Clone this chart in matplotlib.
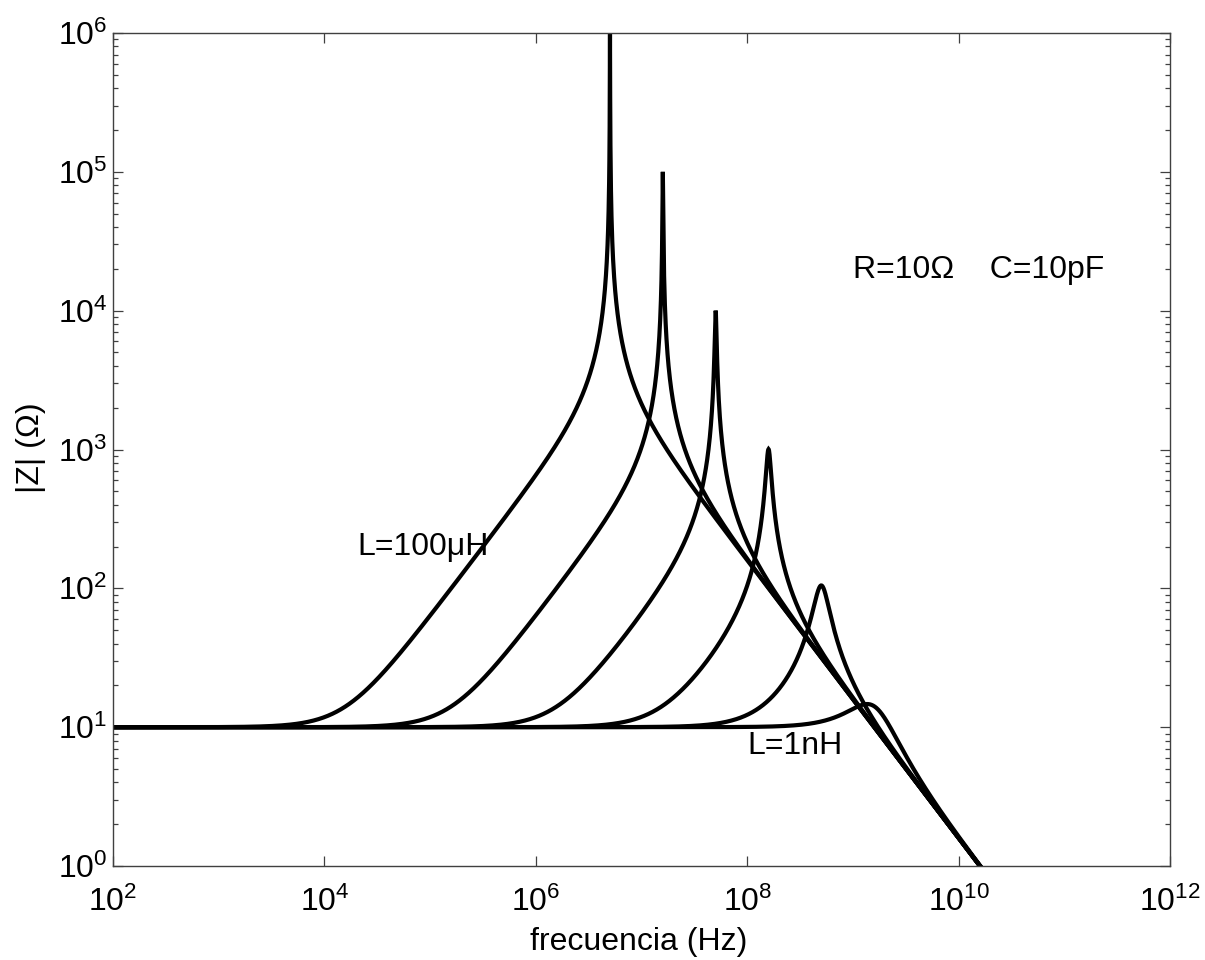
import numpy as np
import matplotlib
matplotlib.use("Agg")
import matplotlib.pyplot as plt
from matplotlib.ticker import LogLocator, NullLocator

plt.rcParams['font.family'] = ['Liberation Sans', 'DejaVu Sans']
plt.rcParams['mathtext.fontset'] = 'custom'
plt.rcParams['mathtext.rm'] = 'Liberation Sans'

# circuit: (R + L) in parallel with C
R = 10.0          # ohm
C = 10e-12        # F
L_values = [100e-6, 10e-6, 1e-6, 100e-9, 10e-9, 1e-9]   # H

f_min, f_max = 1e2, 1e12
z_min, z_max = 1e0, 1e6

fig = plt.figure(figsize=(12.05, 9.6), dpi=100)
ax = fig.add_axes([113/1205, 1 - 866/960, (1170-113)/1205, (866-33)/960])

for L in L_values:
    f0 = 1/(2*np.pi*np.sqrt(L*C))
    f = np.sort(np.concatenate([np.logspace(2, 12, 4000), [f0]]))
    w = 2*np.pi*f
    zl = R + 1j*w*L
    z = zl/(1 + 1j*w*C*zl)
    ax.loglog(f, np.abs(z), color='k', lw=3.0, solid_joinstyle='miter')

ax.set_xlim(f_min, f_max)
ax.set_ylim(z_min, z_max)

ax.xaxis.set_major_locator(LogLocator(base=100))
ax.xaxis.set_minor_locator(NullLocator())
ax.yaxis.set_major_locator(LogLocator(base=10))
ax.yaxis.set_minor_locator(LogLocator(base=10, subs=np.arange(2, 10), numticks=20))

ax.tick_params(which='both', direction='in', top=True, right=True,
               color='#404040', labelsize=23)
ax.tick_params(which='major', length=7.5, width=0.9)
ax.tick_params(which='minor', length=3.8, width=0.9)
ax.tick_params(axis='x', pad=15)
ax.tick_params(axis='y', pad=4)
for spine in ax.spines.values():
    spine.set_edgecolor('#404040')
    spine.set_linewidth(1.0)

ax.set_xlabel('frecuencia (Hz)', fontsize=23)
ax.set_ylabel('|Z| (Ω)', fontsize=23)
ax.xaxis.set_label_coords(0.497, -0.073)
ax.yaxis.set_label_coords(-0.063, 0.502)

ax.text(2.05e4, 2.0e2, 'L=100μH', fontsize=23, va='center', ha='left')
ax.text(1.0e8, 7.3e0, 'L=1nH', fontsize=23, va='center', ha='left')
ax.text(1.0e9, 1.97e4, 'R=10Ω    C=10pF', fontsize=23, va='center', ha='left')

fig.savefig('out.png', dpi=100)
